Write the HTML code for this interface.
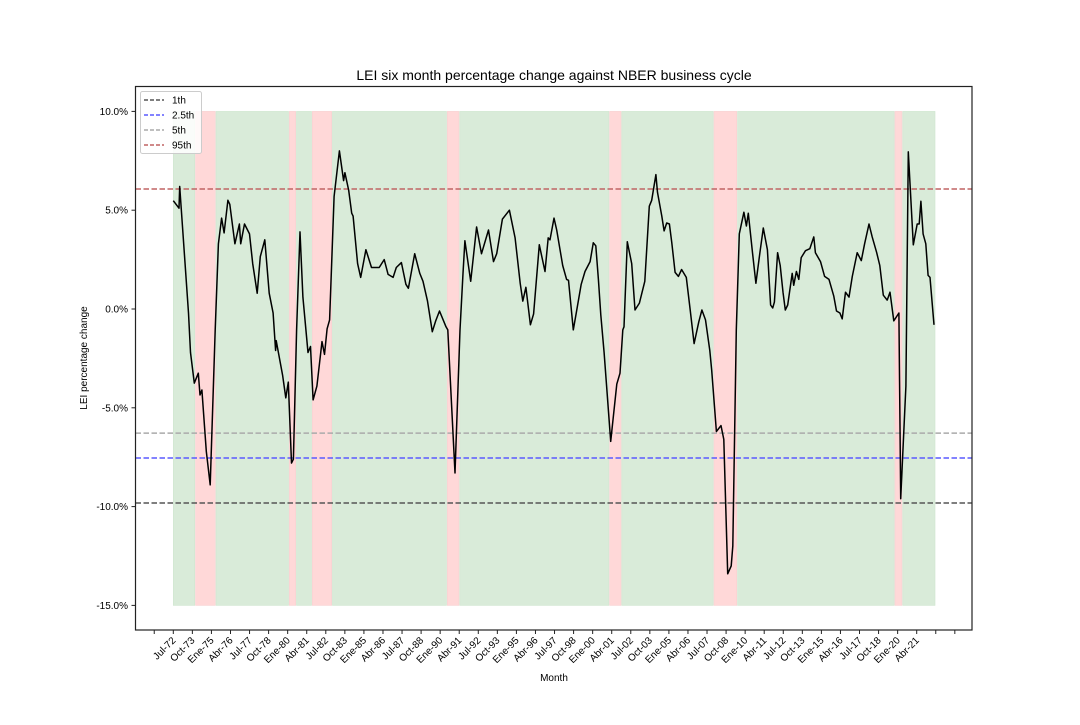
<!DOCTYPE html>
<html><head><meta charset="utf-8"><style>
body{margin:0;background:#fff}
svg text{font-family:"Liberation Sans","DejaVu Sans",sans-serif}
</style></head><body>
<svg id="chart" width="1080" height="720" xmlns="http://www.w3.org/2000/svg">
<rect width="1080" height="720" fill="#fff"/>
<text x="554" y="80" font-size="14" text-anchor="middle" fill="#000">LEI six month percentage change against NBER business cycle</text>
<g id="bands"></g>
<g id="thresholds"></g>
<g id="series"></g>
<g id="axes"></g>
<rect x="135.5" y="86.5" width="836.5" height="543.5" fill="none" stroke="#222" stroke-width="1.2"/>
<text x="554" y="681" font-size="10" text-anchor="middle">Month</text>
<text transform="translate(87,358) rotate(-90)" font-size="10" text-anchor="middle">LEI percentage change</text>
<g>
<rect x="140.5" y="91.5" width="61" height="62" fill="#fff" fill-opacity="0.85" stroke="#ccc" rx="2"/>
<line x1="144" y1="100" x2="164" y2="100" stroke="#555" stroke-dasharray="4,2" stroke-width="1.5"/>
<text x="172" y="103.5" font-size="10">1th</text>
<line x1="144" y1="115" x2="164" y2="115" stroke="#5a5aff" stroke-dasharray="4,2" stroke-width="1.5"/>
<text x="172" y="118.5" font-size="10">2.5th</text>
<line x1="144" y1="130" x2="164" y2="130" stroke="#aaa" stroke-dasharray="4,2" stroke-width="1.5"/>
<text x="172" y="133.5" font-size="10">5th</text>
<line x1="144" y1="145" x2="164" y2="145" stroke="#c06464" stroke-dasharray="4,2" stroke-width="1.5"/>
<text x="172" y="148.5" font-size="10">95th</text>
</g>
</svg>
<script>
// months since Jul-72
const months=[0,4.5,5,12,13.5,16.5,19.7,21,22.5,26,29,33,35.5,38,40,43,44.5,48.5,52,53,56,60,62.5,66,68.5,72,75.5,78.5,80.5,81,86,88.5,90.5,93,94.5,97,99.7,102,106,108,110,113,117,119,121,123,126.5,130.7,134,135,138,140.4,141.5,145,147.5,151.6,156,162,166,169,173,175.5,179.5,183,185,190,194,196.5,200,203.8,206.5,209.5,214.6,216,221.7,225.6,228,229.5,234,238.7,242.5,248,252,254.5,259,264.5,269,273,275,277.5,281,283.5,288,292.5,295,296.4,299.6,301.7,306.4,309.5,311,314.8,317,321,324,328,330.5,332.5,334.5,336.4,339,341,344.2,349,351.5,353.7,354.7,357.3,360.7,363.3,366.8,371,374.6,376.5,379.8,381,384.4,386.2,388.3,390.4,392.3,394.9,397.5,400,403.7,406.8,409.8,413.5,416,418.8,422.2,423.7,427.4,431,433.2,436.3,439,440.3,443,445.4,449,451,452.5,455.8,458.5,461.6,464.3,467.5,470,471.7,473,475.5,477.6,479.8,481.6,483.5,487,488.2,490.3,492.2,494.1,497.5,500.9,504,505.3,509.3,512.5,516,519.8,521.9,524.6,526.4,529,531.7,534.3,538.2,541.4,544,547.5,550,553.5,556,558.7,561.8,564,567,571,572.4,576.5,578.4,582.3,585.4,587,588.3,590,592.2,594,595.5,598.6];
const values=[5.48,5.1,6.2,-0.2,-2.2,-3.75,-3.25,-4.35,-4.1,-7.2,-8.9,-1.06,3.3,4.6,3.85,5.5,5.3,3.3,4.3,3.3,4.3,3.8,2.3,0.8,2.65,3.5,0.8,-0.2,-2.1,-1.6,-3.35,-4.5,-3.7,-7.8,-7.6,-1.06,3.9,0.6,-2.2,-1.9,-4.6,-3.9,-1.65,-2.3,-1.0,-0.55,5.7,8.0,6.5,6.9,6.0,4.85,4.7,2.3,1.6,3.0,2.1,2.1,2.5,1.75,1.6,2.1,2.35,1.25,1.05,2.8,1.8,1.4,0.4,-1.15,-0.6,-0.1,-0.9,-1.06,-8.3,-1.06,1.8,3.45,1.4,4.15,2.8,4.0,2.4,2.8,4.55,5.0,3.6,1.3,0.4,1.1,-0.8,-0.25,3.25,1.9,3.6,3.5,4.6,4.0,2.2,1.5,1.45,-1.06,-0.25,1.25,1.9,2.4,3.35,3.2,1.5,-0.3,-2.2,-3.9,-6.7,-3.8,-3.25,-1.06,-0.9,3.4,2.3,-0.05,0.3,1.4,5.2,5.5,6.8,5.9,4.7,3.95,4.35,4.3,3.35,1.85,1.65,2.0,1.6,-0.05,-1.75,-0.65,-0.05,-0.55,-2.1,-3.1,-6.2,-5.9,-6.6,-13.4,-13.0,-12.0,-1.06,3.8,4.9,4.2,4.85,2.85,1.3,2.85,4.1,3.0,0.2,0.05,0.35,2.85,2.2,0.85,-0.05,0.2,1.8,1.2,1.9,1.5,2.6,2.95,3.05,3.65,2.85,2.4,1.65,1.5,0.65,-0.1,-0.2,-0.5,0.85,0.6,1.65,2.85,2.45,3.3,4.3,3.65,2.85,2.2,0.7,0.45,0.85,-0.6,-0.2,-9.6,-3.9,7.95,3.25,4.3,4.3,5.45,3.8,3.3,1.7,1.6,-0.8];
const recStart=[17.5,91.3,109.4,215.6,343.4,425.5,567.9];
const recEnd=[33,96.3,124.6,224.8,352.3,443.4,573.4];
const expansionEnd=599.4;
const thresholdNames=["1th","2.5th","5th","95th"];
const thresholdValues=[-9.82,-7.54,-6.28,6.07];
const yTicks=[10,5,0,-5,-10,-15];
const xTickLabels=["Jul-72","Oct-73","Ene-75","Abr-76","Jul-77","Oct-78","Ene-80","Abr-81","Jul-82","Oct-83","Ene-85","Abr-86","Jul-87","Oct-88","Ene-90","Abr-91","Jul-92","Oct-93","Ene-95","Abr-96","Jul-97","Oct-98","Ene-00","Abr-01","Jul-02","Oct-03","Ene-05","Abr-06","Jul-07","Oct-08","Ene-10","Abr-11","Jul-12","Oct-13","Ene-15","Abr-16","Jul-17","Oct-18","Ene-20","Abr-21"];

const NS="http://www.w3.org/2000/svg";
const X0=173.3, PXM=743.4/585;
const x=m=>X0+m*PXM;
const y=v=>309-v*19.76;
function mk(tag,attrs,parent){const e=document.createElementNS(NS,tag);for(const k in attrs)e.setAttribute(k,attrs[k]);document.getElementById(parent).appendChild(e);return e;}

// bands
let prev=0;
for(let i=0;i<recStart.length;i++){
  const g=mk('rect',{x:x(prev)+(i?0.8:0),y:y(10),width:Math.max(0,x(recStart[i])-x(prev)-(i?1.6:0.8)),height:y(-15)-y(10),fill:'#d9ebd9',stroke:'#cfe5cf','stroke-width':0.6},'bands');
  
  
  const r=mk('rect',{x:x(recStart[i]),y:y(10),width:x(recEnd[i])-x(recStart[i]),height:y(-15)-y(10),fill:'#ffd8d8',stroke:'#f8d0d0','stroke-width':0.6},'bands');
  
  
  prev=recEnd[i];
}
const ge=mk('rect',{x:x(prev)+0.8,y:y(10),width:x(expansionEnd)-x(prev)-0.8,height:y(-15)-y(10),fill:'#d9ebd9',stroke:'#cfe5cf','stroke-width':0.6},'bands');



// thresholds
const tColors=['#555','#5a5aff','#aaa','#c06464'];
thresholdValues.forEach((v,i)=>{
  const l=mk('line',{x1:135.5,x2:972,y1:y(v),y2:y(v),stroke:tColors[i],'stroke-width':1.5,'stroke-dasharray':'5.5,2.5'},'thresholds');
  
  
});

// series
const d=months.map((m,i)=>(i?'L':'M')+x(m).toFixed(1)+','+y(values[i]).toFixed(1)).join('');
const p=mk('path',{d:d,fill:'none',stroke:'#000','stroke-width':1.5,'stroke-linejoin':'round'},'series');



// y ticks
yTicks.forEach(v=>{
  const t=mk('line',{x1:131.5,x2:135.5,y1:y(v),y2:y(v),stroke:'#222'},'axes');
  
  
  const tx=mk('text',{x:128,y:y(v)+3.5,'font-size':10,'text-anchor':'end'},'axes');
  tx.textContent=v.toFixed(1)+'%';
  
  
});
// x ticks
for(let i=-1;i<=41;i++){
  const xx=x(i*15);
  const t=mk('line',{x1:xx,x2:xx,y1:630,y2:634,stroke:'#222'},'axes');
  
  
  if(i>=0&&i<xTickLabels.length){
    const tx=mk('text',{transform:`translate(${xx+3},641) rotate(-45)`,'font-size':10,'text-anchor':'end'},'axes');
    tx.textContent=xTickLabels[i];
    
    
  }
}
</script>
</body></html>
